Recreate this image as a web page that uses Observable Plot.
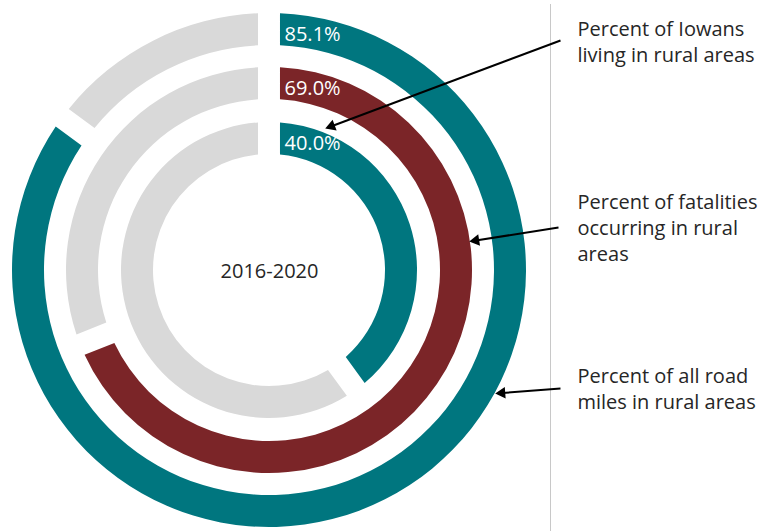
<!DOCTYPE html>
<html><head><meta charset="utf-8">
<script src="https://cdn.jsdelivr.net/npm/d3@7"></script>
<script src="https://cdn.jsdelivr.net/npm/@observablehq/plot@0.6"></script>
<style>body{margin:0;background:#fff;} svg{display:block}</style>
</head><body><div id="chart"></div>
<script>
// ---- data ----
const rings = ["Percent of all road miles in rural areas", "Percent of fatalities occurring in rural areas", "Percent of Iowans living in rural areas"];
const values = [85.1, 69.0, 40.0];
const colors = ["#00767f", "#7b2528", "#00767f"];
const restColor = "#d9d9d9";
const labelLines = [["Percent of all road", "miles in rural areas"], ["Percent of fatalities", "occurring in rural", "areas"], ["Percent of Iowans", "living in rural areas"]];
const centerLabel = "2016-2020";

// ---- layout (pixels, relative to donut centre) ----
const W = 761, H = 531, CX = 269, CY = 270;
const outerR = [257, 203, 148], thick = 32, gap = 22;
const FONT = "'Open Sans', 'Noto Sans', sans-serif";
const FS = 20;
const labelBaseline = [382, 208, 35];
const arrowFrom = [[560, 388], [558, 227], [560, 40]];
const arrowTip = [[495, 393], [469, 241], [325, 128]];

const fmt = v => d3.format(".1f")(v) + "%";

function donut(index, scales) {
  const g = d3.create("svg:g");
  const cx = scales.x(0), cy = scales.y(0);
  const k = scales.x(1) - scales.x(0);
  const arc = d3.arc().padRadius(100).padAngle(gap * k / 100);
  values.forEach((v, i) => {
    const ro = outerR[i] * k, ri = (outerR[i] - thick) * k;
    const a = 2 * Math.PI * v / 100;
    g.append("path").attr("transform", `translate(${cx},${cy})`)
      .attr("d", arc({innerRadius: ri, outerRadius: ro, startAngle: 0, endAngle: a}))
      .attr("fill", colors[i]);
    g.append("path").attr("transform", `translate(${cx},${cy})`)
      .attr("d", arc({innerRadius: ri, outerRadius: ro, startAngle: a, endAngle: 2 * Math.PI}))
      .attr("fill", restColor);
  });
  return g.node();
}

// percent labels
const pctData = values.map((v, i) => ({text: fmt(v), x: 284 - CX, y: -outerR[i] + 27 - 0.32 * FS}));
// side labels
const sideData = labelLines.flatMap((lines, i) => lines.map((t, j) => ({text: t, x: 577 - CX, y: labelBaseline[i] + 26 * j - 0.32 * FS - CY})));
// arrows
const headOff = 6.4;
const arrows = rings.map((r, i) => {
  const [x1, y1] = arrowFrom[i], [x2, y2] = arrowTip[i];
  const dx = x2 - x1, dy = y2 - y1, L = Math.hypot(dx, dy);
  const ux = dx / L, uy = dy / L;
  return {x1: x1 - CX, y1: y1 - CY, hx: x2 - ux * headOff - CX, hy: y2 - uy * headOff - CY,
    rot: Math.atan2(dx, -dy) * 180 / Math.PI};
});

const chart = Plot.plot({
  width: W, height: H, margin: 0,
  x: {domain: [-CX, W - CX], range: [0, W], axis: null},
  y: {domain: [-CY, H - CY], range: [0, H], axis: null},
  style: {fontFamily: FONT, background: "#fff"},
  marks: [
    donut,
    Plot.ruleX([550 - CX], {y1: 4 - CY, y2: H - CY, stroke: "#c8c8c8", strokeWidth: 1}),
    Plot.text(pctData, {x: "x", y: "y", text: "text", textAnchor: "start", fill: "#fff", fontSize: FS, fontFamily: FONT}),
    Plot.text([centerLabel], {x: 0, y: 270 - 0.32 * FS + 7 - CY + 0, text: d => d, fill: "#262626", fontSize: FS, fontFamily: FONT}),
    Plot.text(sideData, {x: "x", y: "y", text: "text", textAnchor: "start", fill: "#262626", fontSize: FS, fontFamily: FONT}),
    Plot.link(arrows, {x1: "x1", y1: "y1", x2: "hx", y2: "hy", stroke: "#000", strokeWidth: 2}),
    Plot.dot(arrows, {x: "hx", y: "hy", symbol: "triangle", r: 4.3, fill: "#000", stroke: "none", rotate: "rot"})
  ]
});
document.getElementById("chart").appendChild(chart);
</script>
</body></html>
